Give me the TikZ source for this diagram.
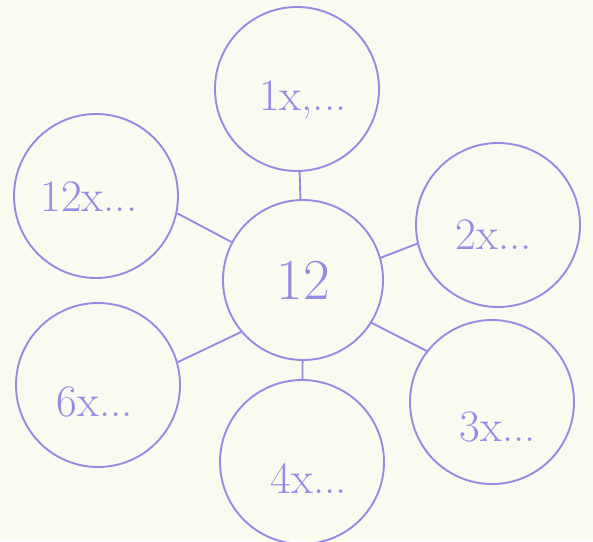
\documentclass[tikz,border=0pt]{standalone}
\usetikzlibrary{positioning}
\definecolor{pencil}{RGB}{148,139,226}
\definecolor{paper}{RGB}{251,250,240}

\begin{document}
\begin{tikzpicture}[
    x=1pt, y=-1pt,
    every node/.style={text=pencil, font=\fontsize{45}{52}\selectfont},
    ring/.style ={draw=pencil, circle, line width=1.9pt,
                  minimum size=164pt, inner sep=0pt},
    hubring/.style={ring, minimum size=160pt, font=\fontsize{58}{66}\selectfont},
    jot/.style  ={inner sep=0pt},
    link/.style ={draw=pencil, line width=1.9pt},
]
\fill[paper] (0,0) rectangle (593,541);
\useasboundingbox (0,0) rectangle (593,541);

\node[hubring] (hub)    at (303,280) {12};
\node[ring]    (one)    at (297,89)  {};
\node[ring]    (two)    at (498,225) {};
\node[ring]    (three)  at (492,402) {};
\node[ring]    (four)   at (302,462) {};
\node[ring]    (six)    at (98,385)  {};
\node[ring]    (twelve) at (96,196)  {};

\node[jot] (onetxt)    at (303,100) {1x,...};
\node[jot] (twotxt)    at (494,235) {2x...};
\node[jot] (threetxt)  at (498,427) {3x...};
\node[jot] (fourtxt)   at (309,478) {4x...};
\node[jot] (sixtxt)    at (95,402)  {6x...};
\node[jot] (twelvetxt) at (89,197)  {12x...};

\draw[link] (one)          -- (hub);
\draw[link] (hub)          -- (four);
\draw[link] (twelve.-12)   -- (hub.152);
\draw[link] (six.16)       -- (hub.220);
\draw[link] (hub.16)       -- (two.193);
\draw[link] (hub.-32)      -- (three.142);
\end{tikzpicture}
\end{document}
